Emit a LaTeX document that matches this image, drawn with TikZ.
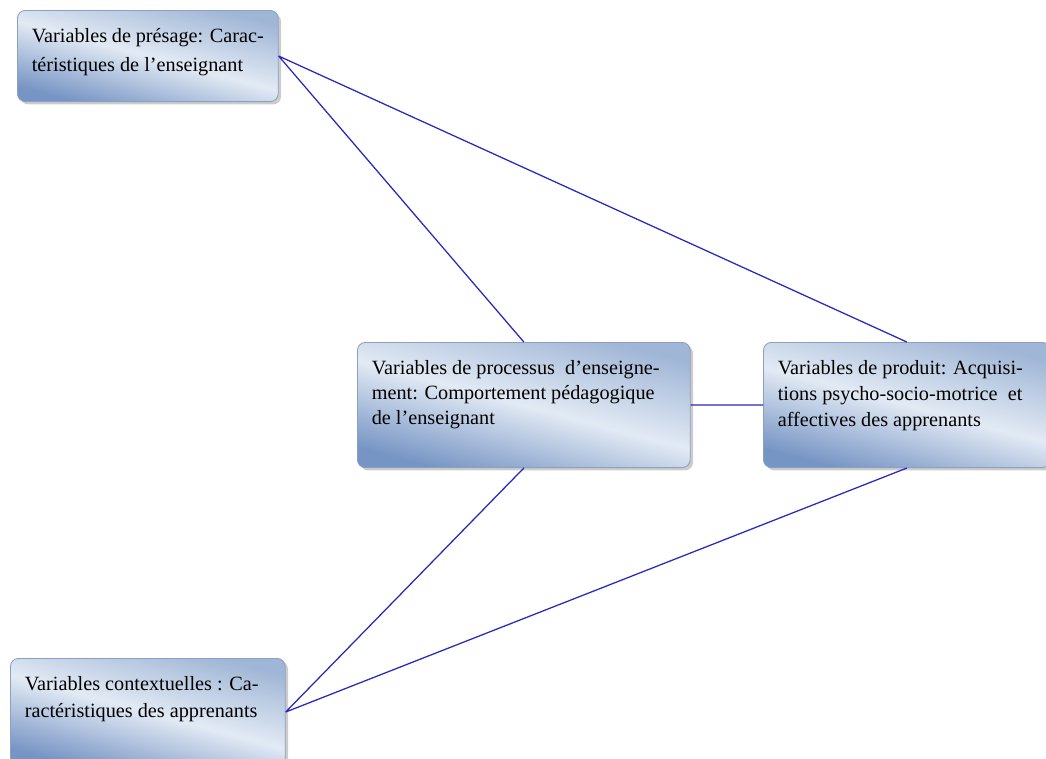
\documentclass[tikz,border=0pt]{standalone}
\usepackage{fontspec}
\setmainfont{Liberation Serif}
\definecolor{linkblue}{RGB}{40, 40, 190}
\definecolor{boxtop}{RGB}{160, 182, 214}
\definecolor{boxmid}{RGB}{226, 234, 244}
\definecolor{boxbot}{RGB}{118, 148, 196}
\definecolor{boxline}{RGB}{140, 160, 192}
\usepackage{tikz}
\usetikzlibrary{shadows}
\newcommand{\boxtext}[4][18pt]{\parbox[t][#3][t]{#2}{\fontsize{14.4}{#1}\selectfont #4}}
\tikzset{
  varbox/.style={
    draw=boxline, line width=0.6pt, rounded corners=2mm,
    top color=boxtop, bottom color=boxbot, middle color=boxmid,
    shading angle=-15,
    drop shadow={opacity=0.4, shadow xshift=0.7mm, shadow yshift=-0.7mm},
    anchor=north west, inner xsep=3.6mm, inner ysep=4.4mm, align=left
  },
  link/.style={draw=linkblue, line width=0.9pt}
}

\begin{document}
\begin{tikzpicture}

    \useasboundingbox (0,0) rectangle (26.15,-18.95);
    \node [varbox] (presage) at (0.425,-0.25)
          {\boxtext[21pt]{5.8cm}{1.4cm}{Variables de présage: Carac-\\
           téristiques de l’enseignant}};
    \node [varbox] (processus) at (8.925,-8.55)
          {\boxtext[17.8pt]{7.6cm}{2.25cm}{Variables de processus~ d’enseigne-\\
           ment: Comportement pédagogique\\ de l’enseignant}};
    \node [varbox] (produit) at (19.075,-8.55)
          {\boxtext[18.8pt]{6.45cm}{2.25cm}{Variables de produit: Acquisi-\\
           tions psycho-socio-motrice~ et\\ affectives des apprenants}};
    \node [varbox] (contexte) at (0.25,-16.45)
          {\boxtext[19.8pt]{6.15cm}{1.8cm}{Variables contextuelles : Ca-\\
           ractéristiques des apprenants}};

    \path [link] (presage.east) -- (processus.north)
          (presage.east) -- (produit.north)
          (processus.east) -- (produit.west)
          (processus.south) -- (contexte.east)
          (produit.south) -- (contexte.east);
\end{tikzpicture}
\end{document}
